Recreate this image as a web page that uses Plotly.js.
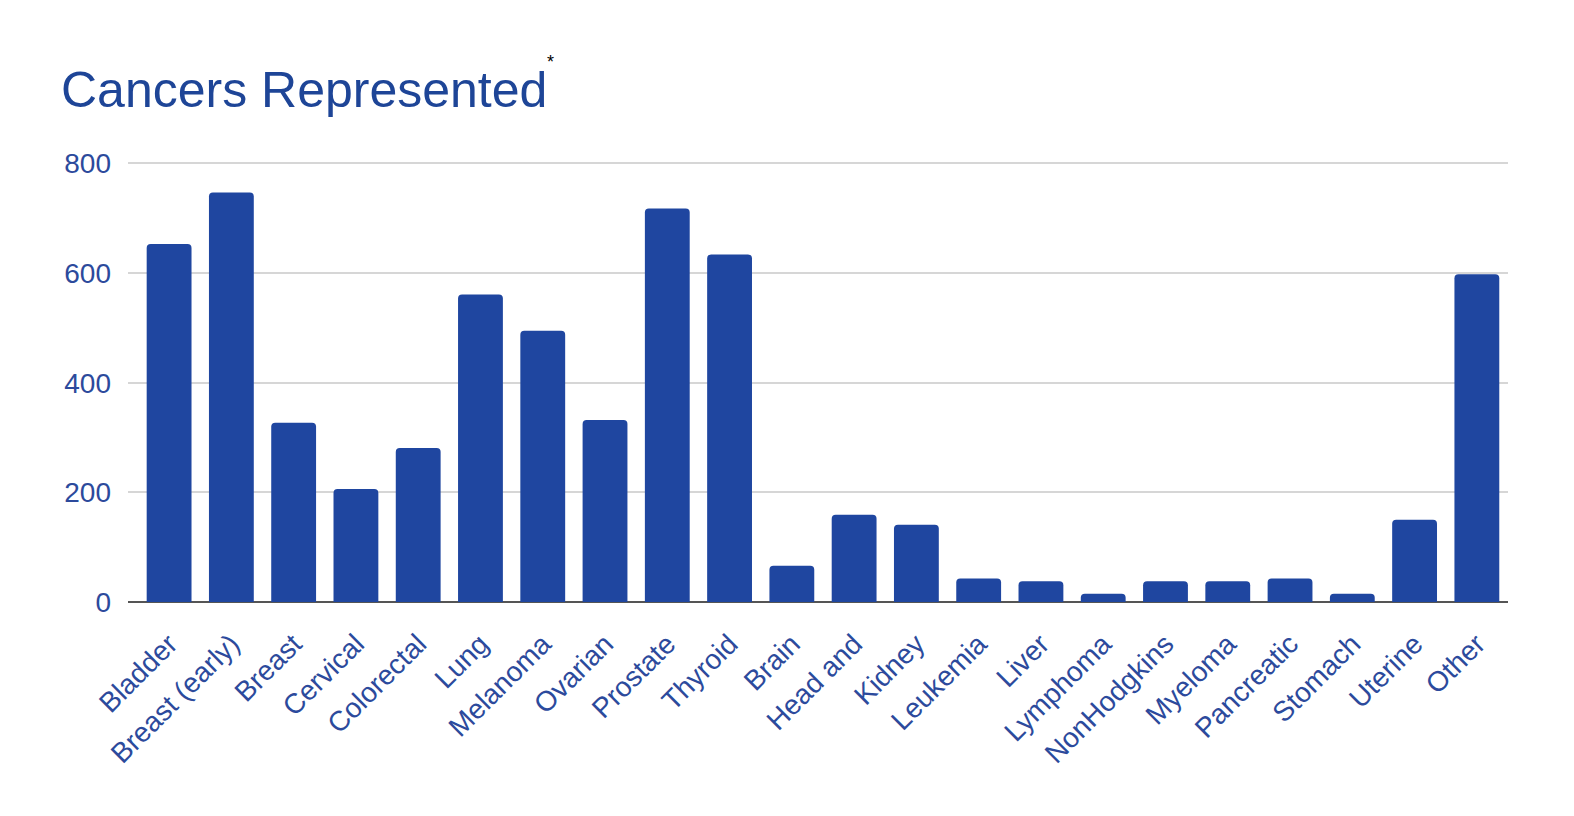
<!DOCTYPE html>
<html>
<head>
<meta charset="utf-8">
<script src="https://cdn.plot.ly/plotly-3.0.1.min.js"></script>
<style>
  html, body { margin: 0; padding: 0; background: #fff; }
  #graph { width: 1574px; height: 816px; }
</style>
</head>
<body>
<div id="graph"></div>
<script>
// categories and counts
var cancerTypes = ['Bladder', 'Breast (early)', 'Breast', 'Cervical', 'Colorectal', 'Lung',
    'Melanoma', 'Ovarian', 'Prostate', 'Thyroid', 'Brain', 'Head and', 'Kidney', 'Leukemia',
    'Liver', 'Lymphoma', 'NonHodgkins', 'Myeloma', 'Pancreatic', 'Stomach', 'Uterine', 'Other'];
var patientCounts = [653, 747, 327, 206, 281, 561, 495, 332, 718, 634, 66, 159, 141, 43,
    38, 15, 38, 38, 43, 15, 150, 598];
var yTicks = [0, 200, 400, 600, 800];

var barBlue = 'rgb(31, 70, 160)';
var textBlue = 'rgb(44, 74, 156)';

var trace0 = {
    x: cancerTypes,
    y: patientCounts,
    type: 'bar',
    marker: {
        color: barBlue,
        cornerradius: 4
    },
    hoverinfo: 'x+y'
};

var margin = { l: 128, r: 66, t: 158, b: 214 };
var plotW = 1574 - margin.l - margin.r;
var plotH = 816 - margin.t - margin.b;

var layout = {
    width: 1574,
    height: 816,
    showlegend: false,
    paper_bgcolor: '#ffffff',
    plot_bgcolor: '#ffffff',
    font: { family: 'Liberation Sans, Arial, sans-serif', color: textBlue },
    title: {
        text: 'Cancers Represented',
        font: { size: 50, color: 'rgb(30, 69, 151)', family: 'Liberation Sans, Arial, sans-serif' },
        xref: 'container',
        yref: 'container',
        x: 61 / 1574,
        xanchor: 'left',
        y: 1 - 89 / 816,
        yanchor: 'middle'
    },
    // the small black asterisk after the title
    annotations: [{
        text: '*',
        xref: 'paper',
        yref: 'paper',
        x: (550 - margin.l) / plotW,
        y: 1 + (margin.t - 62) / plotH,
        xanchor: 'center',
        yanchor: 'middle',
        showarrow: false,
        font: { size: 18, color: '#000000' }
    }],
    margin: margin,
    bargap: 0.28,
    xaxis: {
        range: [-0.66, 21.5],
        tickangle: -45,
        tickfont: { size: 28, color: textBlue },
        showgrid: false,
        showline: false,
        ticks: '',
        ticklabelstandoff: 19,
        fixedrange: true
    },
    yaxis: {
        range: [0, 810],
        tickvals: yTicks,
        tickfont: { size: 28, color: textBlue },
        showgrid: true,
        gridcolor: '#d6d6d6',
        gridwidth: 2,
        zeroline: true,
        zerolinecolor: '#555555',
        zerolinewidth: 2,
        ticklabelstandoff: 16,
        fixedrange: true
    }
};

var graph = document.getElementById('graph');
Plotly.newPlot(graph, [trace0], layout, { staticPlot: true });
</script>
</body>
</html>
